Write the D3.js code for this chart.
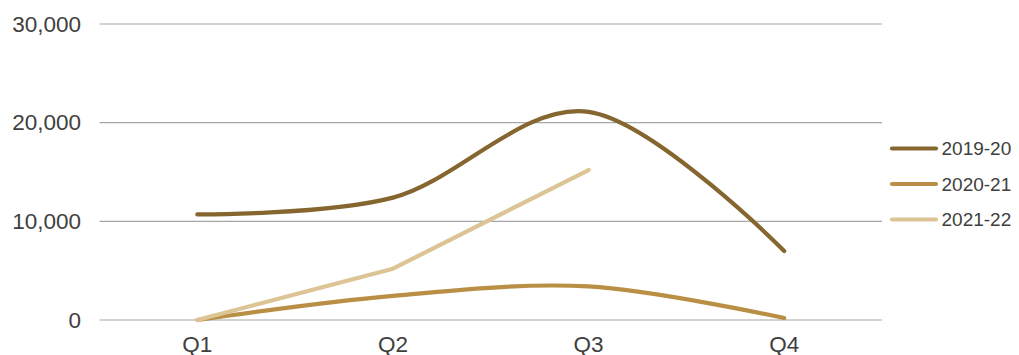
<!DOCTYPE html>
<html>
<head>
<meta charset="utf-8">
<script src="https://cdn.jsdelivr.net/npm/d3@7/dist/d3.min.js"></script>
<style>
  html, body { margin: 0; padding: 0; background: #fff; }
  svg { display: block; font-family: "Liberation Sans", Arial, sans-serif; }
</style>
</head>
<body>
<svg id="chart" width="1019" height="355"></svg>
<script>
// Quarterly figures per financial year
const quarters = ["Q1", "Q2", "Q3", "Q4"];
const yTicks = [0, 10000, 20000, 30000];
const seriesNames = ["2019-20", "2020-21", "2021-22"];
const values2019 = [10700, 12400, 21100, 7000];
const values2020 = [0, 2450, 3400, 200];
const values2021 = [0, 5200, 15200];
const seriesColors = ["#84662e", "#b98f45", "#dcc495"];
const seriesSmooth = [true, true, false];

const series = seriesNames.map((name, i) => ({
  name,
  values: [values2019, values2020, values2021][i],
  color: seriesColors[i],
  smooth: seriesSmooth[i]
}));

const svg = d3.select("#chart");
const plot = { left: 99.5, right: 882, top: 24, bottom: 320 };
const textColor = "#404040";

const x = d3.scaleBand().domain(quarters).range([plot.left, plot.right]);
const y = d3.scaleLinear().domain([0, 30000]).range([plot.bottom, plot.top]);

// Horizontal gridlines
svg.append("g")
  .selectAll("line")
  .data(yTicks)
  .join("line")
  .attr("x1", plot.left)
  .attr("x2", plot.right)
  .attr("y1", d => y(d))
  .attr("y2", d => y(d))
  .attr("stroke", "#a6a6a6")
  .attr("stroke-width", 1.2);

// Y axis labels
const yAxis = svg.append("g")
  .attr("transform", `translate(${plot.left},0)`)
  .call(d3.axisLeft(y).tickValues(yTicks).tickFormat(d3.format(",")).tickSize(0).tickPadding(18.5));
yAxis.select(".domain").remove();
yAxis.selectAll("text")
  .attr("font-size", 22.5)
  .attr("fill", textColor)
  .attr("font-family", "Liberation Sans, Arial, sans-serif");

// X axis labels
const xAxis = svg.append("g")
  .attr("transform", `translate(0,${plot.bottom})`)
  .call(d3.axisBottom(x).tickSize(0));
xAxis.select(".domain").remove();
xAxis.selectAll("text")
  .attr("y", 31.5)
  .attr("dy", 0)
  .attr("font-size", 22.5)
  .attr("fill", textColor)
  .attr("font-family", "Liberation Sans, Arial, sans-serif");

// Series lines
const cx = (d, i) => x(quarters[i]) + x.bandwidth() / 2;
const smoothLine = d3.line().x(cx).y(d => y(d)).curve(d3.curveCardinal.tension(0));
const straightLine = d3.line().x(cx).y(d => y(d));

svg.append("g")
  .selectAll("path")
  .data(series)
  .join("path")
  .attr("d", s => (s.smooth ? smoothLine : straightLine)(s.values))
  .attr("fill", "none")
  .attr("stroke", s => s.color)
  .attr("stroke-width", 4.2)
  .attr("stroke-linecap", "round")
  .attr("stroke-linejoin", "round");

// Legend
const legend = svg.append("g")
  .selectAll("g")
  .data(series)
  .join("g")
  .attr("transform", (s, i) => `translate(892,${148.5 + i * 35.5})`);
legend.append("line")
  .attr("x1", 0).attr("x2", 44)
  .attr("stroke", s => s.color)
  .attr("stroke-width", 4.2)
  .attr("stroke-linecap", "round");
legend.append("text")
  .attr("x", 49.5)
  .attr("dy", "0.36em")
  .attr("font-size", 19)
  .attr("fill", textColor)
  .text(s => s.name);
</script>
</body>
</html>
